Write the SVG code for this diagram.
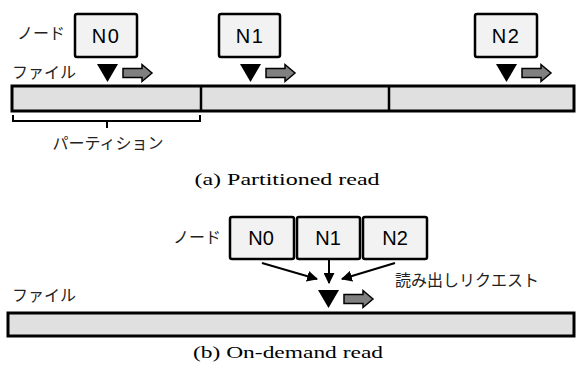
<svg xmlns="http://www.w3.org/2000/svg" width="576" height="365" viewBox="0 0 576 365">
  <style>
    .node { fill: #f2f2f2; stroke: #000; stroke-width: 2.5; }
    .nlabel { font-family: "Liberation Sans", Arial, sans-serif; font-size: 20px; fill: #000; text-anchor: middle; }
    .bar { fill: #e0e0e0; stroke: #000; stroke-width: 3; }
    .jp { font-family: "Noto Sans CJK JP", "Noto Sans", sans-serif; font-size: 16px; fill: #222; }
    .cap { font-family: "Liberation Serif", "Times New Roman", serif; font-size: 17px; fill: #000; text-anchor: middle; }
    .tri { fill: #000; }
    .move { fill: #808080; stroke: #000; stroke-width: 1.5; stroke-linejoin: miter; }
    .req { stroke: #000; stroke-width: 2; fill: none; }
  </style>
  <defs>
    <marker id="head" viewBox="0 0 10 10" refX="9" refY="5" markerWidth="5.5" markerHeight="5.5" orient="auto" markerUnits="strokeWidth">
      <path d="M0,0 L10,5 L0,10 z" fill="#000"/>
    </marker>
    <!-- read position: black pointer plus grey direction arrow -->
    <g id="cursor">
      <polygon class="tri" points="0,0 21,0 10.5,18"/>
      <path class="move" d="M26,4.5 H45 V0.5 L55,9 L45,17.5 V13.5 H26 Z"/>
    </g>
  </defs>

  <!-- (a) partitioned read -->
  <g id="a-file">
    <rect class="bar" x="12" y="86" width="562" height="25"/>
    <line x1="201" y1="86" x2="201" y2="111" stroke="#000" stroke-width="2.5"/>
    <line x1="389" y1="86" x2="389" y2="111" stroke="#000" stroke-width="2.5"/>
  </g>
  <g id="a-n0">
    <rect class="node" x="75" y="14" width="62" height="43" rx="2"/>
    <text class="nlabel" x="106" y="43" letter-spacing="1.5">N0</text>
    <use href="#cursor" x="97" y="64"/>
  </g>
  <g id="a-n1">
    <rect class="node" x="219" y="14" width="61" height="43" rx="2"/>
    <text class="nlabel" x="250" y="43" letter-spacing="1.5">N1</text>
    <use href="#cursor" x="240" y="64"/>
  </g>
  <g id="a-n2">
    <rect class="node" x="475" y="14" width="62" height="43" rx="2"/>
    <text class="nlabel" x="506" y="43" letter-spacing="1.5">N2</text>
    <use href="#cursor" x="496" y="64"/>
  </g>
  <g id="a-partition">
    <path d="M13,115 V121 H200 V115 M107,121 V128" fill="none" stroke="#000" stroke-width="2"/>
    <text class="jp" x="108" y="149" text-anchor="middle">パーティション</text>
  </g>
  <text class="jp" x="17" y="39">ノード</text>
  <text class="jp" x="12" y="78">ファイル</text>
  <text class="cap" x="287" y="185" textLength="185" lengthAdjust="spacingAndGlyphs">(a) Partitioned read</text>

  <!-- (b) on-demand read -->
  <g id="b-file">
    <rect class="bar" x="8" y="313" width="566" height="23"/>
    <use href="#cursor" x="318" y="290"/>
  </g>
  <g id="b-n0">
    <rect class="node" x="230" y="217" width="64" height="42" rx="2"/>
    <text class="nlabel" x="261" y="245">N0</text>
  </g>
  <g id="b-n1">
    <rect class="node" x="297" y="217" width="63" height="42" rx="2"/>
    <text class="nlabel" x="328" y="245">N1</text>
  </g>
  <g id="b-n2">
    <rect class="node" x="363" y="217" width="64" height="42" rx="2"/>
    <text class="nlabel" x="395" y="245">N2</text>
  </g>
  <g id="connectors">
    <line class="req" x1="262" y1="263" x2="317" y2="279" marker-end="url(#head)"/>
    <line class="req" x1="329" y1="260" x2="329" y2="283" marker-end="url(#head)"/>
    <line class="req" x1="395" y1="263" x2="342" y2="279" marker-end="url(#head)"/>
  </g>
  <text class="jp" x="173" y="243">ノード</text>
  <text class="jp" x="395" y="286">読み出しリクエスト</text>
  <text class="jp" x="12" y="301">ファイル</text>
  <text class="cap" x="288" y="358" textLength="190" lengthAdjust="spacingAndGlyphs">(b) On-demand read</text>
</svg>
